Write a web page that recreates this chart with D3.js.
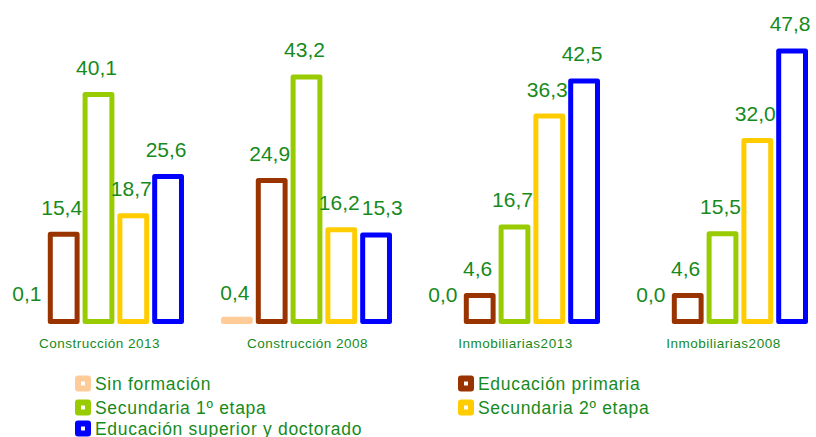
<!DOCTYPE html>
<html>
<head>
<meta charset="utf-8">
<script src="https://cdn.jsdelivr.net/npm/d3@7"></script>
<style>
  body { margin: 0; background: #fff; }
  svg { display: block; font-family: "Liberation Sans", Arial, sans-serif; }
</style>
</head>
<body>
<div id="chart"></div>
<script>
// data
const groups = ["Construcción2013", "Construcción2008", "Inmobiliarias2013", "Inmobiliarias2008"];
const groupLabels = ["Construcción 2013", "Construcción 2008", "Inmobiliarias2013", "Inmobiliarias2008"];
const series = ["Sin formación", "Educación primaria", "Secundaria 1º etapa", "Secundaria 2º etapa", "Educación superior y doctorado"];
const sinFormacion = [0.1, 0.4, 0.0, 0.0];
const primaria = [15.4, 24.9, 4.6, 4.6];
const secundaria1 = [40.1, 43.2, 16.7, 15.5];
const secundaria2 = [18.7, 16.2, 36.3, 32.0];
const superior = [25.6, 15.3, 42.5, 47.8];

const colors = ["#FFCC99", "#993300", "#99CC00", "#FFCC00", "#0000FF"];
const textColor = "#178a1c";

const width = 816, height = 437;
const sw = 5; // bar outline

const values = [sinFormacion, primaria, secundaria1, secundaria2, superior];
const rows = [];
groups.forEach((g, gi) => {
	series.forEach((s, si) => {
		rows.push({ group: g, series: s, si: si, value: values[si][gi] });
	});
});

const svg = d3.select("#chart").append("svg")
	.attr("width", width)
	.attr("height", height);

const x0 = d3.scaleBand()
	.domain(groups)
	.range([13, 808])
	.paddingInner(0.178)
	.paddingOuter(0);

const x1 = d3.scaleBand()
	.domain(series)
	.range([0, x0.bandwidth()])
	.paddingInner(0.086)
	.paddingOuter(0);

const y = d3.scaleLinear()
	.domain([0, 50])
	.range([321.5, 38.5]);

const fmt = v => d3.format(".1f")(v).replace(".", ",");

// bars (very small values are not drawn, like in the original)
svg.append("g").selectAll("rect")
	.data(rows.filter(d => y(0) - y(d.value) >= 1))
	.join("rect")
	.attr("x", d => x0(d.group) + x1(d.series) + sw / 2)
	.attr("y", d => y(d.value))
	.attr("width", x1.bandwidth() - sw)
	.attr("height", d => y(0) - y(d.value))
	.attr("fill", "#fff")
	.attr("stroke", d => colors[d.si])
	.attr("stroke-width", sw)
	.attr("stroke-linejoin", "round");

// value labels
const labels = svg.append("g").selectAll("text")
	.data(rows)
	.join("text")
	.attr("x", d => x0(d.group) + x1(d.series) + x1.bandwidth() / 2 - 2)
	.attr("y", d => y(d.value) - sw / 2 - 17)
	.attr("text-anchor", "middle")
	.attr("font-size", "21px")
	.attr("fill", textColor)
	.text(d => fmt(d.value));

// push a label right when it runs into its left neighbour
let prev = null;
labels.each(function(d) {
	const b = this.getBBox();
	if (prev && prev.group === d.group) {
		const p = prev.box;
		const overlapX = p.x + p.width + 2 - b.x;
		const overlapY = b.y < p.y + p.height && p.y < b.y + b.height;
		if (overlapX > 0 && overlapY) {
			d3.select(this).attr("x", +d3.select(this).attr("x") + overlapX);
			b.x += overlapX;
		}
	}
	prev = { group: d.group, box: b };
});

// category labels
svg.append("g").selectAll("text")
	.data(groups)
	.join("text")
	.attr("x", g => x0(g) + x0.bandwidth() / 2 + 1)
	.attr("y", 348)
	.attr("text-anchor", "middle")
	.attr("font-size", "13.5px")
	.attr("letter-spacing", "0.5px")
	.attr("fill", textColor)
	.text((g, i) => groupLabels[i]);

// legend, two columns
const legCols = [75, 458];
const legRows = [383, 407, 428];
const legend = svg.append("g").selectAll("g")
	.data(series)
	.join("g")
	.attr("transform", (s, i) => `translate(${legCols[i % 2]},${legRows[Math.floor(i / 2)]})`);

legend.append("rect")
	.attr("x", 3).attr("y", -4.5)
	.attr("width", 10).attr("height", 10)
	.attr("fill", "#fff")
	.attr("stroke", (s, i) => colors[i])
	.attr("stroke-width", 6)
	.attr("stroke-linejoin", "round");

legend.append("text")
	.attr("x", 20)
	.attr("y", 6.5)
	.attr("font-size", "17.5px")
	.attr("letter-spacing", "0.7px")
	.attr("fill", textColor)
	.text(s => s);
</script>
</body>
</html>
